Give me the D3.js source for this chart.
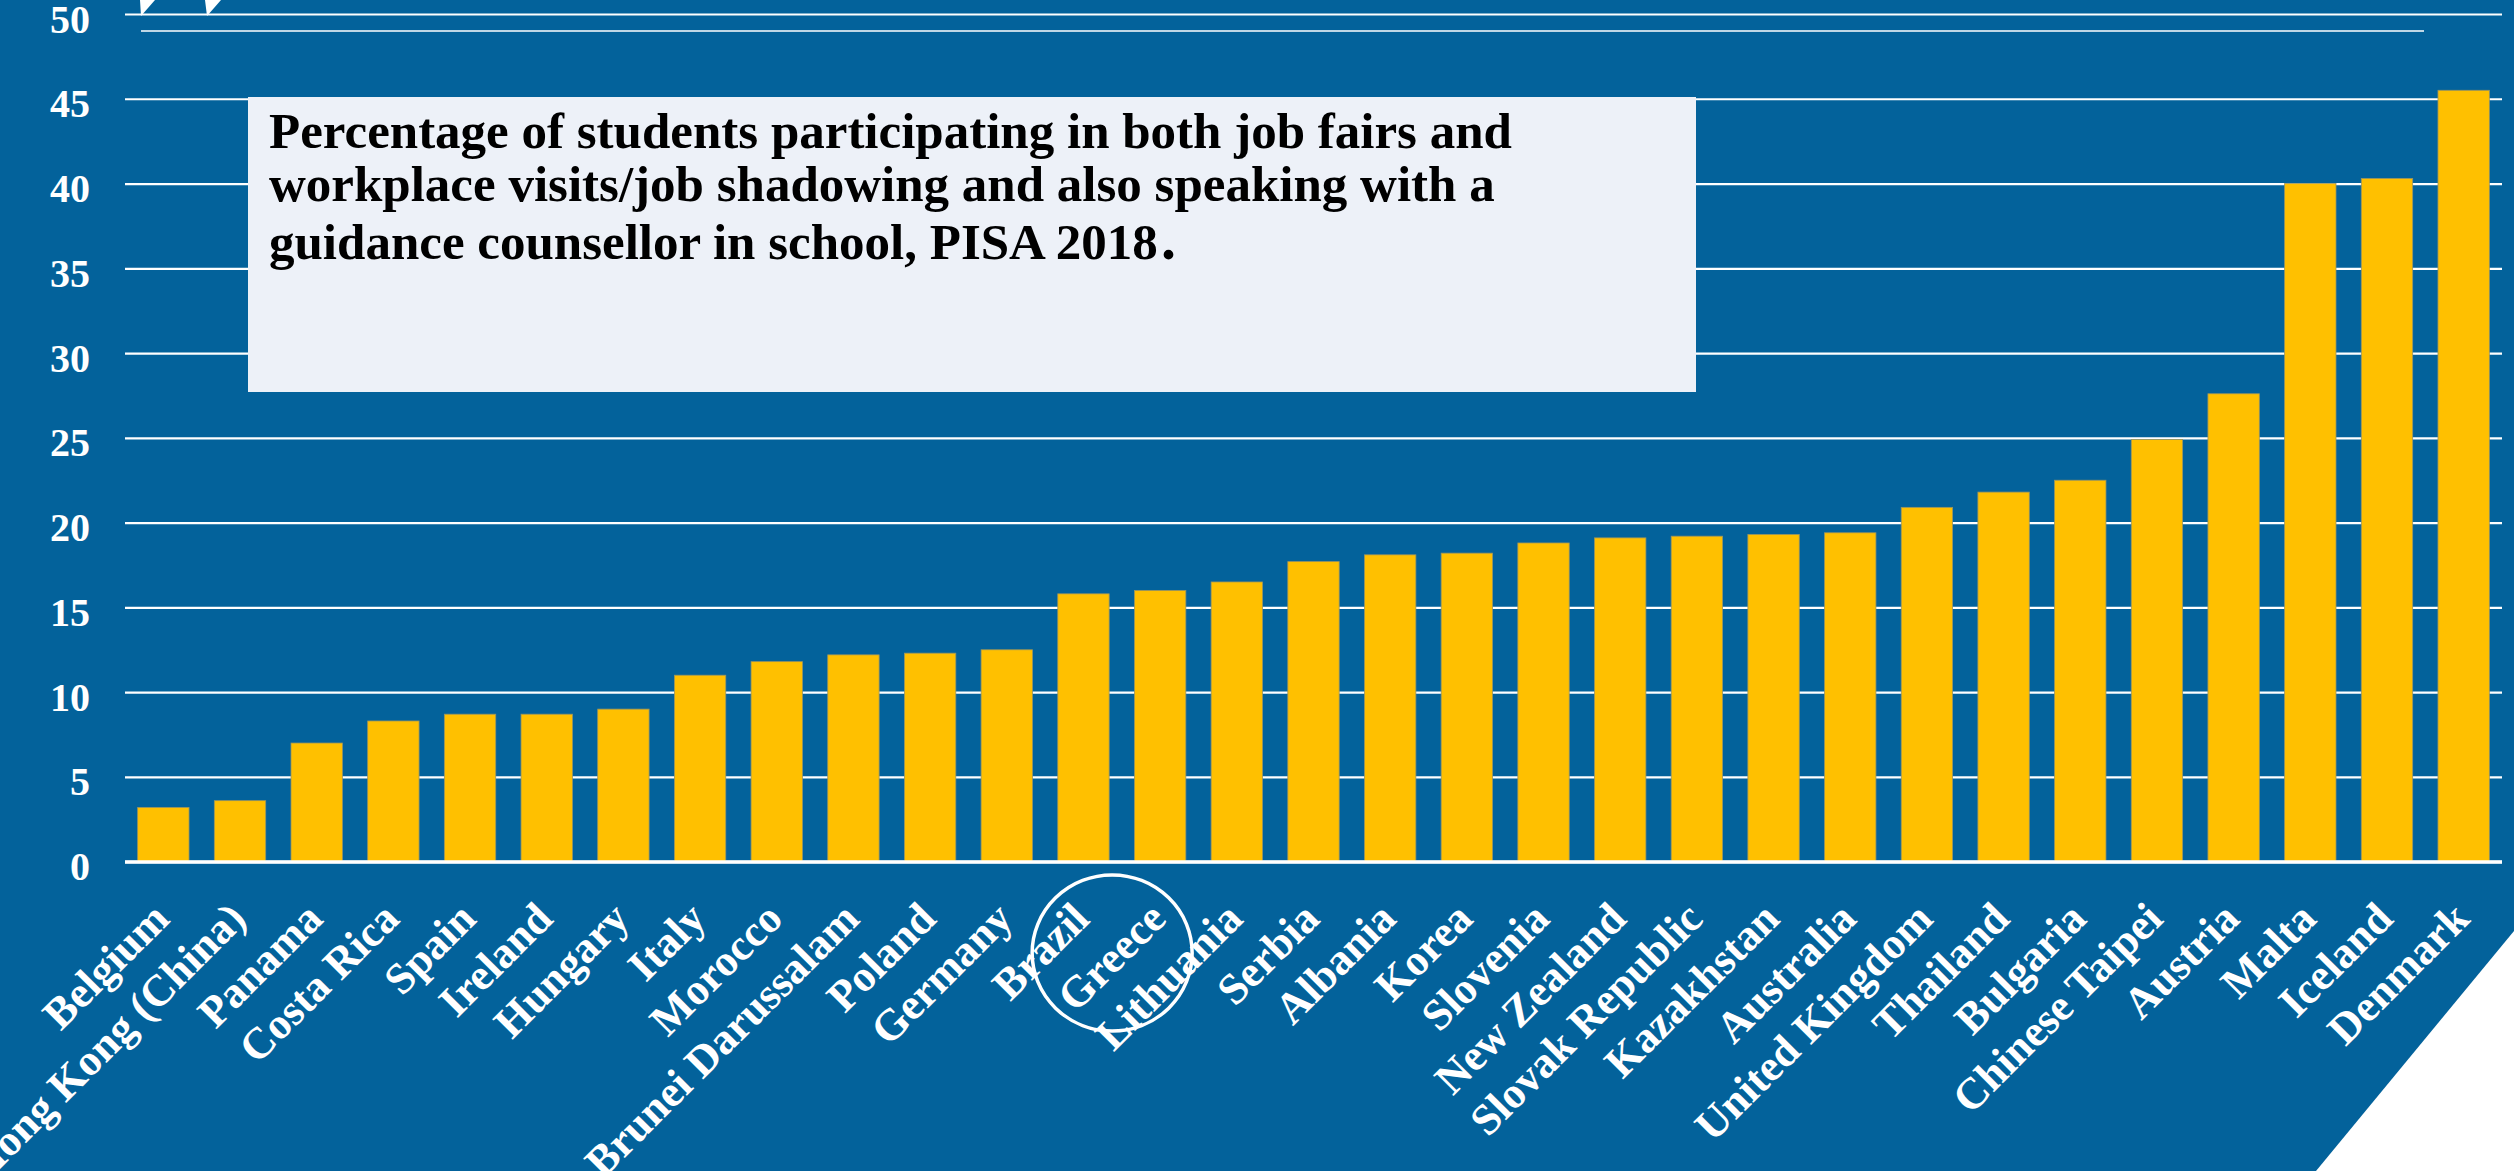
<!DOCTYPE html>
<html>
<head>
<meta charset="utf-8">
<script src="https://cdn.jsdelivr.net/npm/d3@7"></script>
<style>
  html, body { margin: 0; padding: 0; background: #ffffff; overflow: hidden; }
  svg { display: block; }
</style>
</head>
<body>
<script>
// Countries, ordered from lowest to highest share
const categories = [
  "Belgium", "Hong Kong (China)", "Panama", "Costa Rica", "Spain", "Ireland",
  "Hungary", "Italy", "Morocco", "Brunei Darussalam", "Poland", "Germany",
  "Brazil", "Greece", "Lithuania", "Serbia", "Albania", "Korea", "Slovenia",
  "New Zealand", "Slovak Republic", "Kazakhstan", "Australia", "United Kingdom",
  "Thailand", "Bulgaria", "Chinese Taipei", "Austria", "Malta", "Iceland", "Denmark"
];

// Percentage of students (%)
const values = [
  3.2, 3.6, 7.0, 8.3, 8.7, 8.7,
  9.0, 11.0, 11.8, 12.2, 12.3, 12.5,
  15.8, 16.0, 16.5, 17.7, 18.1, 18.2, 18.8,
  19.1, 19.2, 19.3, 19.4, 20.9,
  21.8, 22.5, 24.9, 27.6, 40.0, 40.3, 45.5
];

const yTicks = [0, 5, 10, 15, 20, 25, 30, 35, 40, 45, 50];

const titleLines = [
  "Percentage of students participating in both job fairs and",
  "workplace visits/job shadowing and also speaking with a",
  "guidance counsellor in school, PISA 2018"
];

const highlighted = "Greece";

const W = 2514, H = 1171;
const BLUE = "#03629b";
const GOLD = "#ffc000";
const SERIF = "'Liberation Serif', 'DejaVu Serif', serif";

const svg = d3.select("body").append("svg")
  .attr("width", W).attr("height", H)
  .attr("viewBox", `0 0 ${W} ${H}`);

// Panel background with a cut lower-right corner
svg.append("rect").attr("width", W).attr("height", H).attr("fill", BLUE);
svg.append("polygon")
  .attr("points", `${W},931 ${W},${H} 2316,${H}`)
  .attr("fill", "#ffffff");

// Small decorative notches along the top edge
svg.append("polygon").attr("points", "140,0 155,0 141,16").attr("fill", "#ffffff");
svg.append("polygon").attr("points", "205,0 221,0 207,16").attr("fill", "#ffffff");

const plotLeft = 125, plotRight = 2502;

const x = d3.scaleBand()
  .domain(categories)
  .range([plotLeft, plotRight])
  .paddingInner(0.33)
  .paddingOuter(0.165);

const y = d3.scaleLinear()
  .domain([0, 50])
  .range([861.7, 14]);

// Y axis with full-width gridlines
const yAxis = d3.axisLeft(y)
  .tickValues(yTicks)
  .tickSize(-(plotRight - plotLeft))
  .tickPadding(35)
  .tickFormat(d3.format("d"));

const gy = svg.append("g")
  .attr("transform", `translate(${plotLeft},0)`)
  .call(yAxis);
gy.select(".domain").remove();
gy.selectAll(".tick line")
  .attr("stroke", "#ffffff")
  .attr("stroke-width", d => d === 0 ? 3 : 2.2);
gy.selectAll(".tick text")
  .attr("fill", "#ffffff")
  .attr("font-family", SERIF)
  .attr("font-weight", "bold")
  .attr("font-size", 40)
  .attr("dy", "0.45em");

// Thin rule under the top gridline
svg.append("line")
  .attr("x1", 141).attr("x2", 2424)
  .attr("y1", 31).attr("y2", 31)
  .attr("stroke", "#ffffff").attr("stroke-width", 1.6);

// Bars
svg.append("g").selectAll("rect")
  .data(categories.map((c, i) => ({ c, v: values[i] })))
  .join("rect")
  .attr("x", d => x(d.c))
  .attr("y", d => y(d.v))
  .attr("width", x.bandwidth())
  .attr("height", d => y(0) - y(d.v))
  .attr("fill", GOLD)
  .attr("stroke", "#9a9460")
  .attr("stroke-width", 0.8);

// Redraw the zero baseline over the bars
svg.append("line")
  .attr("x1", plotLeft).attr("x2", plotRight)
  .attr("y1", y(0)).attr("y2", y(0))
  .attr("stroke", "#ffffff").attr("stroke-width", 3);

// Rotated category labels
svg.append("g").selectAll("text")
  .data(categories)
  .join("text")
  .attr("transform", d => `translate(${x(d) + x.bandwidth() / 2 + 8},921) rotate(-45)`)
  .attr("text-anchor", "end")
  .attr("fill", "#ffffff")
  .attr("font-family", SERIF)
  .attr("font-weight", "bold")
  .attr("font-size", 44)
  .text(d => d);

// Ring around the highlighted country label
svg.append("ellipse")
  .attr("cx", x(highlighted) + x.bandwidth() / 2 - 48)
  .attr("cy", 953)
  .attr("rx", 80)
  .attr("ry", 78)
  .attr("fill", "none")
  .attr("stroke", "#ffffff")
  .attr("stroke-width", 3.5);

// Title box
svg.append("rect")
  .attr("x", 248).attr("y", 97)
  .attr("width", 1696 - 248).attr("height", 392 - 97)
  .attr("fill", "#edf1f8");

const baselines = [148, 201, 259];
const title = svg.append("g").selectAll("text")
  .data(titleLines)
  .join("text")
  .attr("x", 269)
  .attr("y", (d, i) => baselines[i])
  .attr("fill", "#000000")
  .attr("font-family", SERIF)
  .attr("font-weight", "bold")
  .attr("font-size", 51)
  .text(d => d);

// Closing full stop, set slightly larger
title.filter((d, i) => i === titleLines.length - 1)
  .append("tspan")
  .attr("font-size", 60)
  .attr("dx", 3)
  .text(".");
</script>
</body>
</html>
